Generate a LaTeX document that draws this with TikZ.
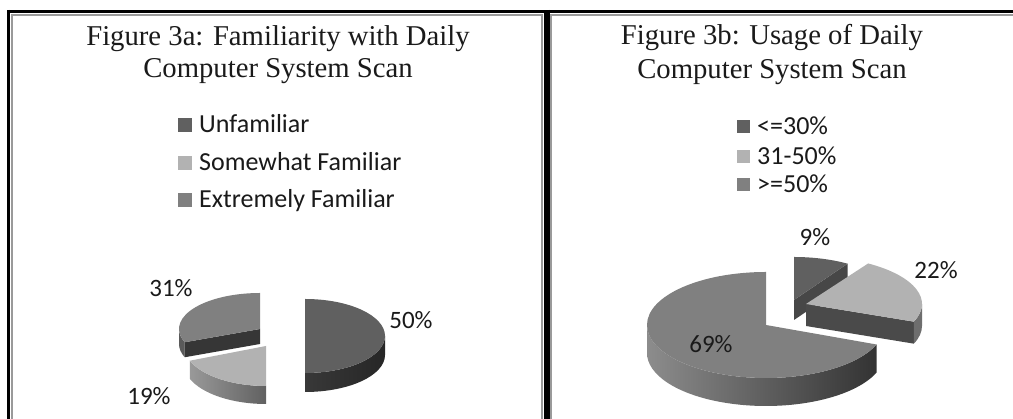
\documentclass[tikz,border=0pt]{standalone}
\usepackage{fontspec}
\setmainfont{Liberation Serif}
\newfontfamily\legendfont{Carlito}

\definecolor{darkslice}{HTML}{606060}
\definecolor{midslice}{HTML}{808080}
\definecolor{lightslice}{HTML}{B2B2B2}
\definecolor{framegray}{HTML}{9A9A9A}
\definecolor{cutdark}{HTML}{363636}
\definecolor{cutmid}{HTML}{474747}
\definecolor{rimdark}{HTML}{5A5A5A}
\definecolor{cutright}{HTML}{4A4A4A}
\definecolor{rimright}{HTML}{6E6E6E}
\definecolor{textblack}{HTML}{1A1A1A}

\tikzset{
  titletext/.style={font=\fontsize{28.7}{31}\selectfont, anchor=base, inner sep=0pt, text=textblack},
  legendtext/.style={font=\legendfont\fontsize{26}{30}\selectfont, anchor=base west, inner sep=0pt, text=textblack},
  pcttext/.style={font=\legendfont\fontsize{25}{30}\selectfont, inner sep=0pt, text=textblack},
  keybox/.style={draw=none, inner sep=0pt, minimum size=#1},
  outerline/.style={line width=3pt, black},
  innerline/.style={line width=2.2pt, framegray},
}

\begin{document}
\begin{tikzpicture}[x=1pt, y=1pt]
\useasboundingbox (0,0) rectangle (1013,419);
\fill[white] (0,0) rectangle (1013,419);

% ---- double table borders ----
\draw[innerline] (12,0) -- (12,404) -- (542,404) -- (542,0);
\draw[innerline] (551,0) -- (551,404) -- (1013,404);
\draw[outerline] (7,407.5) -- (1013,407.5);
\draw[outerline] (8.5,409) -- (8.5,0);
\draw[line width=6pt, black] (546.5,409) -- (546.5,0);

% ---- left chart: familiarity ----
\node[titletext] (ta1) at (278,373) {Figure 3a: Familiarity with Daily};
\node[titletext] (ta2) at (278,341) {Computer System Scan};

\node[keybox=14pt, fill=darkslice]  (ka1) at (185,294) {};
\node[keybox=14pt, fill=lightslice] (ka2) at (185,256) {};
\node[keybox=14pt, fill=midslice]   (ka3) at (185,219) {};
\node[legendtext] (la1) at (199,286) {Unfamiliar};
\node[legendtext] (la2) at (199,248) {Somewhat Familiar};
\node[legendtext] (la3) at (199,211) {Extremely Familiar};

% 31% slice (upper left)
\fill[rimdark] (179,90) arc[start angle=180,end angle=201.6,x radius=81,y radius=36]
  -- ++(0,-15) arc[start angle=201.6,end angle=180,x radius=81,y radius=36] -- cycle;
\fill[cutdark] (260,90) -- ([shift={(260,90)}]201.6:81 and 36) -- ++(0,-15) -- (260,75) -- cycle;
\fill[midslice] (260,90) -- (260,126) arc[start angle=90,end angle=201.6,x radius=81,y radius=36] -- cycle;

% 19% slice (lower left)
\shade[left color=gray!80!white, right color=black!62] ([shift={(266,73)}]201.6:82 and 40)
  arc[start angle=201.6,end angle=270,x radius=82,y radius=40]
  -- ++(0,-18) arc[start angle=270,end angle=201.6,x radius=82,y radius=40] -- cycle;
\fill[lightslice] (266,73) -- ([shift={(266,73)}]201.6:82 and 40)
  arc[start angle=201.6,end angle=270,x radius=82,y radius=40] -- cycle;

% 50% slice (right half)
\shade[left color=black!78, right color=black!85] (305,46)
  arc[start angle=-90,end angle=0,x radius=80,y radius=37]
  -- ++(0,-19) arc[start angle=0,end angle=-90,x radius=80,y radius=37] -- cycle;
\fill[darkslice] (305,83) -- (305,46) arc[start angle=-90,end angle=90,x radius=80,y radius=37] -- cycle;

\node[pcttext] (pa31) at (171,131) {31\%};
\node[pcttext] (pa19) at (149,23) {19\%};
\node[pcttext] (pa50) at (411,99) {50\%};

% ---- right chart: usage ----
\node[titletext] (tb1) at (772,374) {Figure 3b: Usage of Daily};
\node[titletext] (tb2) at (772,340) {Computer System Scan};

\node[keybox=13pt, fill=darkslice]  (kb1) at (743.5,292) {};
\node[keybox=13pt, fill=lightslice] (kb2) at (743.5,262) {};
\node[keybox=13pt, fill=midslice]   (kb3) at (743.5,234) {};
\node[legendtext] (lb1) at (757,284) {<=30\%};
\node[legendtext] (lb2) at (757,254) {31-50\%};
\node[legendtext] (lb3) at (757,226) {>=50\%};

% 9% slice (top)
\fill[cutmid] (794,119) -- ([shift={(794,119)}]57.6:100 and 43) -- ++(0,-20) -- (794,99) -- cycle;
\fill[darkslice] (794,119) -- ([shift={(794,119)}]57.6:100 and 43)
  arc[start angle=57.6,end angle=90,x radius=100,y radius=43] -- cycle;

% 22% slice (right)
\fill[cutright] (806,115) -- ([shift={(806,115)}]-21.6:116 and 48) -- ++(0,-22) -- (806,93) -- cycle;
\fill[rimright] ([shift={(806,115)}]-21.6:116 and 48)
  arc[start angle=-21.6,end angle=0,x radius=116,y radius=48]
  -- ++(0,-22) arc[start angle=0,end angle=-21.6,x radius=116,y radius=48] -- cycle;
\fill[lightslice] (806,115) -- ([shift={(806,115)}]-21.6:116 and 48)
  arc[start angle=-21.6,end angle=57.6,x radius=116,y radius=48] -- cycle;

% 69% slice (main body)
\shade[left color=black!45, right color=black!80] (647,94)
  arc[start angle=180,end angle=338.4,x radius=119,y radius=53]
  -- ++(0,-28) arc[start angle=338.4,end angle=180,x radius=119,y radius=53] -- cycle;
\fill[midslice] (766,94) -- (766,147) arc[start angle=90,end angle=338.4,x radius=119,y radius=53] -- cycle;

\node[pcttext] (pb9)  at (815,182) {9\%};
\node[pcttext] (pb22) at (936,149) {22\%};
\node[pcttext] (pb69) at (711,75)  {69\%};
\end{tikzpicture}
\end{document}
